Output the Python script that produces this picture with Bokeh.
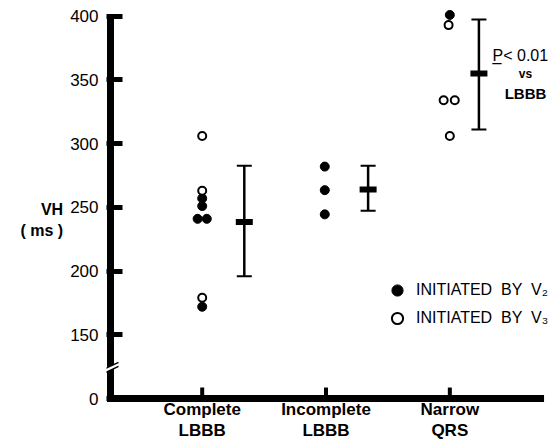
from bokeh.plotting import figure
from bokeh.embed import file_html
from bokeh.resources import INLINE
from bokeh.models import FixedTicker, Label, Legend, LegendItem, Range1d
from bokeh.core.properties import value

# ---------------- data ----------------
categories = ["Complete\nLBBB", "Incomplete\nLBBB", "Narrow\nQRS"]
complete_v2 = [257, 251, 241, 241, 172]
complete_v3 = [306, 263, 179]
incomplete_v2 = [282, 263.5, 244.5]
incomplete_v3 = []
narrow_v2 = [401]
narrow_v3 = [393, 334, 334, 306]
group_mean = [238.6, 264, 355]
group_upper = [282.6, 282.6, 397.4]
group_lower = [196, 247.3, 311]
y_ticks = [100, 150, 200, 250, 300, 350, 400]
y_tick_labels = ["0", "150", "200", "250", "300", "350", "400"]
y_title = "VH\n( ms )"
legend_labels = ["INITIATED  BY  V\u2082", "INITIATED  BY  V\u2083"]

# ---------------- layout (positions only) ----------------
complete_v2_dx = [0, 0, -0.037, 0.037, 0]
complete_v3_dx = [0, 0, 0]
incomplete_v2_dx = [-0.01, -0.01, -0.01]
incomplete_v3_dx = []
narrow_v2_dx = [0]
narrow_v3_dx = [-0.01, -0.05, 0.04, 0]
bar_dx = [0.34, 0.34, 0.235]
X0, X1 = 0.227, 3.797          # frame x range
Y0, Y1 = 67.83, 412.32         # frame y range
AX_X = 0.2593                  # y axis line position
AX_END = 3.7327                # end of x axis line
FONT = "Liberation Sans"

v2x, v2y, v3x, v3y = [], [], [], []
for i, (a, da, b, db) in enumerate([
        (complete_v2, complete_v2_dx, complete_v3, complete_v3_dx),
        (incomplete_v2, incomplete_v2_dx, incomplete_v3, incomplete_v3_dx),
        (narrow_v2, narrow_v2_dx, narrow_v3, narrow_v3_dx)]):
    v2x += [i + 1 + d for d in da]; v2y += list(a)
    v3x += [i + 1 + d for d in db]; v3y += list(b)
cat_x = [i + 1 for i in range(len(categories))]
bx = [c + d for c, d in zip(cat_x, bar_dx)]

p = figure(width=548, height=439,
           x_range=Range1d(X0, X1), y_range=Range1d(Y0, Y1),
           x_axis_location=None,
           output_backend="svg", toolbar_location=None,
           min_border_left=106, min_border_right=0,
           min_border_top=0, min_border_bottom=0)
p.outline_line_color = None
p.grid.visible = False
p.background_fill_color = "white"

# y axis (ticks + labels from the library; line drawn inside the frame)
ya = p.yaxis[0]
ya.ticker = FixedTicker(ticks=y_ticks)
ya.major_label_overrides = {t: l for t, l in zip(y_ticks, y_tick_labels)}
ya.bounds = (100, 421)
ya.axis_line_color = None
ya.major_tick_line_width = 5
ya.major_tick_in = 16
ya.major_tick_out = 0
ya.minor_tick_line_color = None
ya.major_label_standoff = 8
ya.major_label_text_font = FONT
ya.major_label_text_font_size = "17px"
ya.major_label_text_color = "black"
ya.axis_label = y_title
ya.axis_label_orientation = "horizontal"
ya.axis_label_standoff = 4
ya.axis_label_text_font = FONT
ya.axis_label_text_font_style = "bold"
ya.axis_label_text_font_size = "16px"
ya.axis_label_text_color = "black"

# axis lines
p.segment(x0=[AX_X], y0=[100], x1=[AX_X], y1=[401.2], line_color="black", line_width=7)
p.segment(x0=[AX_X], y0=[100], x1=[AX_END], y1=[100], line_color="black", line_width=7,
          line_cap="square")
# category ticks and labels
p.segment(x0=cat_x, y0=[100] * 3, x1=cat_x, y1=[108.6] * 3, line_color="black", line_width=4)
p.text(x=cat_x, y=[82.8] * 3, text=categories, text_font=value(FONT), text_font_style="bold",
       text_font_size="17px", text_align="center", text_baseline="middle",
       text_line_height=1.1, text_color="black")

# axis break
p.patch(x=[0.2028, 0.324, 0.324, 0.2028], y=[119.6, 125.2, 128.3, 122.8],
        fill_color="white", line_color=None)
p.segment(x0=[0.2028, 0.2028], y0=[119.6, 122.8], x1=[0.324, 0.324], y1=[125.2, 128.3],
          line_color="black", line_width=1.5)

# error bars
p.segment(x0=bx, y0=group_lower, x1=bx, y1=group_upper, line_color="black", line_width=2.5)
p.scatter(x=bx + bx, y=group_lower + group_upper, marker="dash", size=15,
          line_color="black", line_width=2)
p.scatter(x=bx, y=group_mean, marker="dash", size=17, line_color="black", line_width=6)

# points
r2 = p.scatter(x=v2x, y=v2y, marker="circle", size=9, fill_color="black", line_color="black")
r3 = p.scatter(x=v3x, y=v3y, marker="circle", size=8, fill_color="white",
               line_color="black", line_width=2)

# legend
legend = Legend(items=[LegendItem(label=legend_labels[0], renderers=[r2]),
                       LegendItem(label=legend_labels[1], renderers=[r3])],
                location=(277, 107), border_line_color=None, background_fill_alpha=0,
                padding=0, margin=0, spacing=-7, glyph_width=28, glyph_height=28,
                label_height=20, label_standoff=5, label_text_font=FONT,
                label_text_font_size="16px", label_text_color="black")
p.add_layout(legend)

# significance note
p.add_layout(Label(x=3.345, y=369.2, text="P< 0.01", text_font=FONT, text_font_size="16px",
                   text_baseline="middle", text_color="black"))
p.add_layout(Label(x=3.345, y=369.2, text="_", text_font=FONT, text_font_size="16px",
                   text_baseline="middle", text_color="black"))
p.add_layout(Label(x=3.611, y=355.0, text="vs", text_font=FONT, text_font_style="bold",
                   text_font_size="12px", text_align="center", text_baseline="middle",
                   text_color="black"))
p.add_layout(Label(x=3.611, y=339.3, text="LBBB", text_font=FONT, text_font_style="bold",
                   text_font_size="15px", text_align="center", text_baseline="middle",
                   text_color="black"))

open("out.html", "w").write(file_html(p, INLINE))
